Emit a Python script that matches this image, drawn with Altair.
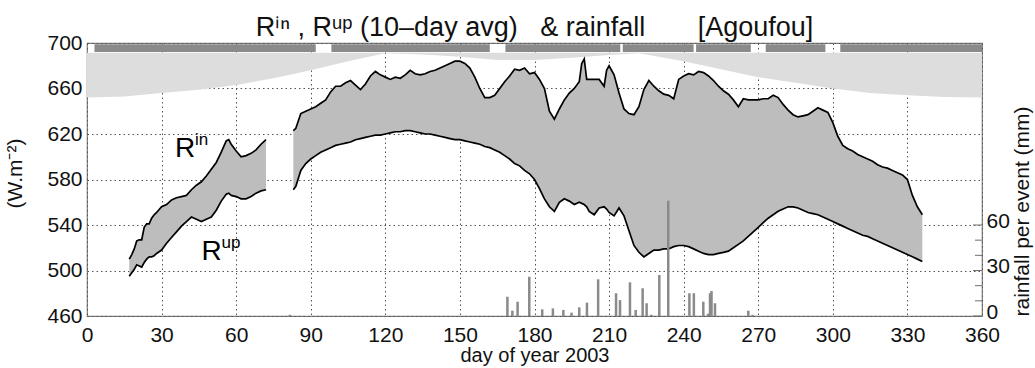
import altair as alt
import pandas as pd

# ---------------- data ----------------
# segment 1 of the 10-day averages (W.m-2)
day1 = [17, 18, 19, 20, 21, 22, 23, 24, 25, 26, 27, 28, 30, 32, 34, 36, 38, 40, 42, 44,
        46, 48, 50, 52, 54, 56, 57, 58, 60, 62, 64, 66, 68, 70, 72]
rin1 = [510, 514, 519, 526, 527, 527, 538, 541, 541, 546, 549, 551, 556, 558, 562, 564, 565, 566, 571, 575,
        578, 583, 589, 595, 604, 614, 615, 611, 605, 600, 601, 603, 606, 611, 615]
rup1 = [495, 498, 501, 505, 504, 503, 507, 510, 512, 512, 513, 515, 518, 524, 529, 534, 539, 543, 547, 545,
        543, 545, 547, 553, 561, 567, 568, 566, 565, 563, 563, 565, 568, 570, 571]

# segment 2
day2 = [83, 84, 86, 88, 90, 92, 94, 96, 98, 100, 102, 104, 106, 108, 110, 112, 114, 116, 118, 120,
        122, 124, 126, 128, 130, 132, 134, 136, 138, 140, 142, 144, 146, 148, 150, 152, 154, 156, 158, 160,
        162, 164, 166, 168, 170, 172, 174, 176, 178, 180, 182, 184, 186, 188, 190, 192, 194, 196, 198, 199,
        200, 201, 202, 204, 206, 208, 209, 210, 212, 214, 216, 218, 220, 222, 224, 226, 228, 230, 232, 234,
        236, 238, 240, 242, 244, 246, 248, 250, 252, 254, 256, 258, 260, 262, 264, 266, 268, 270, 272, 274,
        276, 278, 280, 282, 284, 286, 288, 290, 292, 294, 296, 298, 300, 302, 304, 306, 308, 310, 312, 314,
        316, 318, 320, 322, 324, 326, 328, 330, 332, 334, 336]
rin2 = [623, 625, 638, 640, 642, 644, 647, 650, 657, 662, 662, 665, 667, 663, 659, 664, 671, 675, 672, 670,
        668, 670, 669, 672, 676, 673, 672, 673, 675, 676, 678, 680, 682, 684, 684, 682, 678, 670, 660, 652,
        652, 654, 660, 666, 671, 677, 676, 678, 673, 674, 668, 660, 640, 633, 642, 650, 656, 660, 666, 682,
        686, 668, 668, 668, 668, 662, 676, 680, 672, 656, 642, 638, 637, 644, 659, 667, 662, 658, 655, 654,
        651, 668, 671, 673, 672, 675, 674, 671, 667, 662, 658, 655, 650, 644, 651, 650, 650, 650, 651, 651,
        654, 652, 646, 641, 637, 635, 636, 637, 640, 643, 641, 639, 630, 618, 610, 607, 605, 602, 600, 598,
        596, 593, 591, 590, 588, 586, 584, 580, 566, 556, 549]
rup2 = [571, 574, 588, 594, 598, 601, 604, 606, 608, 610, 611, 612, 613, 615, 616, 617, 618, 619, 619, 620,
        621, 622, 622, 623, 623, 622, 621, 620, 620, 619, 618, 617, 616, 615, 615, 614, 613, 612, 611, 609,
        608, 606, 604, 601, 598, 594, 592, 588, 585, 580, 572, 563, 556, 552, 560, 563, 561, 558, 560, 559,
        558, 556, 552, 549, 555, 556, 554, 551, 548, 555, 548, 535, 522, 516, 512, 515, 518, 518, 519, 519,
        521, 522, 522, 521, 519, 517, 515, 514, 514, 515, 516, 517, 520, 523, 526, 530, 534, 538, 542, 546,
        549, 552, 554, 556, 556, 555, 553, 551, 550, 549, 547, 545, 543, 541, 539, 537, 535, 533, 531, 530,
        528, 526, 524, 522, 520, 518, 516, 514, 512, 510, 508]

# light-grey envelope (lower edge of the band under the data-availability strip)
env_day = [0, 15, 30, 45, 60, 75, 90, 105, 120, 135, 150, 165, 180, 195, 210, 222, 240, 255, 270, 285,
           300, 315, 330, 345, 360]
env_val = [652, 653, 656, 659, 663, 669, 676, 684, 691, 690, 688, 685, 685, 687, 689.5, 691, 684, 677, 670, 665,
           660, 656, 654, 652.5, 652]

# dark data-availability strip
strip_start = [3, 98.3, 168.3, 215.5, 245, 273, 303]
strip_end = [92, 162, 214.5, 244, 267, 297, 360]

# rainfall events (mm)
rain_day = [81.6, 169.1, 171.1, 173.2, 177.9, 183.1, 187.4, 191.6, 194.9, 198, 201.1, 205.6, 212.8, 214.4,
            218.4, 220.7, 223.5, 225.1, 227, 230.2, 233.8, 242.3, 244.1, 247.9, 249.8, 250.6, 251.2, 252.6,
            266, 267.7]
rain_mm = [0.8, 12.7, 3.5, 9.4, 25.9, 4.4, 5, 4, 2.2, 5.7, 8.8, 24.2, 15, 10.5,
           22.2, 4, 18.3, 8.4, 0.8, 27, 76, 15, 15, 9.4, 1.5, 15, 16.5, 8.4,
           3.5, 0.8]

x_ticks = list(range(0, 361, 30))
w_ticks = list(range(460, 701, 40))
rain_major = [0, 30, 60]
rain_minor = [10, 20, 40, 50]

# ---------------- tables ----------------
rad = pd.concat([
    pd.DataFrame({"day": day1, "rin": rin1, "rup": rup1, "seg": 1}),
    pd.DataFrame({"day": day2, "rin": rin2, "rup": rup2, "seg": 2}),
])
env = pd.DataFrame({"day": env_day, "low": env_val, "high": 691.5})
strip = pd.DataFrame({"day": strip_start, "e": strip_end, "w": 692.0, "y2": 699.0})
rain = pd.DataFrame({"day": rain_day, "mm": rain_mm})
ann = pd.DataFrame({"day": [35.4, 46.1], "w": [600, 509], "sup": ["in", "up"], "main": ["R", "R"]})

FONT = "Liberation Sans"
W, H = 895, 273

xs = alt.Scale(domain=[0, 360], nice=False, zero=False)
ys = alt.Scale(domain=[460, 700], nice=False, zero=False)
rs = alt.Scale(domain=[0, 180], nice=False)

x_axis = alt.Axis(values=x_ticks, title="day of year 2003", grid=True, tickSize=0, domain=False,
                  labelFontSize=21, labelPadding=8, titleFontSize=20, titlePadding=0,
                  titleFontWeight="normal", labelColor="#111", titleColor="#111", labelFlush=False)
y_axis = alt.Axis(values=w_ticks, title="(W.m\u207b\u00b2)", grid=True, tickSize=0, domain=False,
                  labelFontSize=21, labelPadding=5, titleFontSize=21, titleFontWeight="normal",
                  titleAngle=270, titleX=-72, titleY=130, titleAlign="center", titleBaseline="middle",
                  labelColor="#111", titleColor="#111", labelFlush=False)
r_axis = alt.Axis(values=rain_major, orient="right", title="rainfall per event (mm)", grid=False,
                  tickSize=0, domain=False, labelFontSize=21, labelPadding=4, labelOffset=-4,
                  titleFontSize=21, titleFontWeight="normal", titleAngle=270, titleX=40, titleY=168,
                  titleAlign="center", titleBaseline="middle", labelColor="#111", titleColor="#111",
                  labelFlush=False)


def X(field):
    return alt.X(field, type="quantitative", scale=xs, axis=x_axis)


def YW(field):
    return alt.Y(field, type="quantitative", scale=ys, axis=y_axis)


def YR(field):
    return alt.Y(field, type="quantitative", scale=rs, axis=r_axis)


band = alt.Chart(env).mark_area(color="#dddddd").encode(x=X("day"), y=YW("low"), y2="high:Q")
strip_l = alt.Chart(strip).mark_rect(color="#8a8a8a").encode(x=X("day"), x2="e:Q", y=YW("w"), y2="y2:Q")
fill = alt.Chart(rad).mark_area(color="#bdbdbd").encode(x=X("day"), y=YW("rin"), y2="rup:Q", detail="seg:N")
line_in = alt.Chart(rad).mark_line(color="black", strokeWidth=1.7).encode(x=X("day"), y=YW("rin"), detail="seg:N")
line_up = alt.Chart(rad).mark_line(color="black", strokeWidth=1.7).encode(x=X("day"), y=YW("rup"), detail="seg:N")
ann_main = alt.Chart(ann).mark_text(font=FONT, fontSize=28, align="left", baseline="alphabetic",
                                    color="black").encode(x=X("day"), y=YW("w"), text="main:N")
ann_sup = alt.Chart(ann).mark_text(font=FONT, fontSize=17, align="left", baseline="alphabetic",
                                   color="black", dx=20, dy=-12).encode(x=X("day"), y=YW("w"), text="sup:N")

w_group = alt.layer(band, strip_l, fill, line_in, line_up, ann_main, ann_sup)

rain_bars = alt.Chart(rain).mark_rule(color="#8a8a8a", strokeWidth=2.5).encode(
    x=X("day"), y=YR("mm"), y2=alt.datum(0))
tick_major = alt.Chart(pd.DataFrame({"mm": rain_major})).mark_rule(color="#707070", strokeWidth=1).encode(
    y=YR("mm"), x=alt.value(W - 9), x2=alt.value(W))
tick_minor = alt.Chart(pd.DataFrame({"mm": rain_minor})).mark_rule(color="#707070", strokeWidth=1).encode(
    y=YR("mm"), x=alt.value(W - 7), x2=alt.value(W))
r_group = alt.layer(rain_bars, tick_major, tick_minor)

title_text = ("R\u2071\u207f , R\u1d58\u1d56 (10\u2013day avg)\u00a0\u00a0\u00a0& rainfall"
              "\u00a0\u00a0\u00a0\u00a0\u00a0\u00a0\u00a0[Agoufou]")

chart = alt.layer(w_group, r_group).resolve_scale(y="independent").properties(
    width=W, height=H,
    title=alt.TitleParams(title_text, fontSize=27, fontWeight="normal", font=FONT, anchor="middle",
                          baseline="alphabetic", offset=-31, color="#111", frame="group"),
    autosize=alt.AutoSizeParams(type="none"),
    padding={"left": 87, "right": 53, "top": 43, "bottom": 52},
).configure(font=FONT, background="white").configure_view(
    stroke="#7a7a7a", strokeWidth=1.2
).configure_axis(
    gridColor="#555555", gridDash=[1.5, 3], gridWidth=1, gridOpacity=1,
)

chart.save("out.html", embed_options={"renderer": "svg", "actions": False})
